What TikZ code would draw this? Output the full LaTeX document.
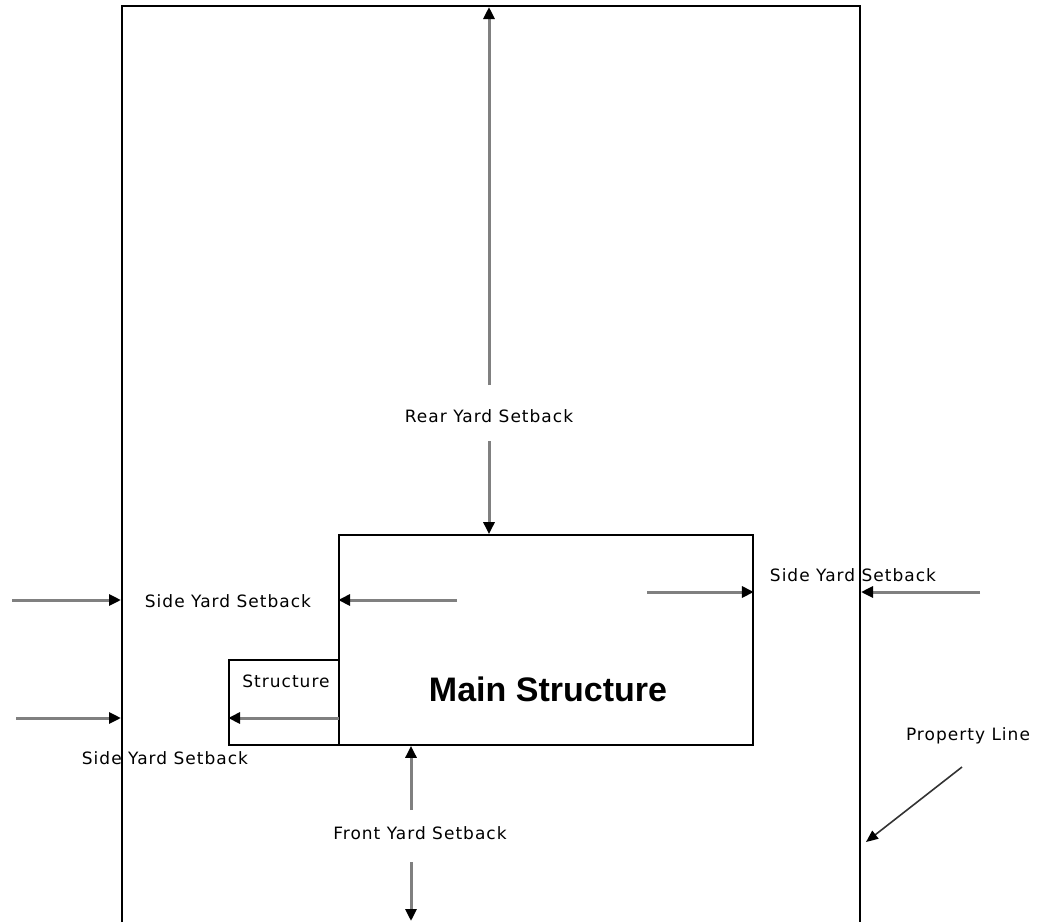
\documentclass[tikz,border=0pt]{standalone}
\usepackage{fontspec}
\setmainfont{DejaVu Sans}
\newfontfamily\tagfont[LetterSpace=6]{DejaVu Sans}
\newfontfamily\headfont{Liberation Sans}
\usetikzlibrary{arrows.meta,positioning}

\begin{document}
\begin{tikzpicture}[x=1pt,y=-1pt,
  setback/.style={draw=gray,line width=3pt,-{Triangle[length=12pt,width=11pt,black]}},
  pointer/.style={draw=black!80,line width=1.6pt,-{Triangle[length=12pt,width=10pt,black]}},
  lot/.style={draw=black,line width=1.8pt},
  tag/.style={font=\tagfont\fontsize{17}{20}\selectfont,inner sep=0pt}]
  \useasboundingbox (0,0) rectangle (1037,922);
  % property line, open at the front
  \draw[lot] (122,922) -- (122,6) -- (860,6) -- (860,922);
  \node[lot,minimum width=414pt,minimum height=210pt,inner sep=0pt] (main) at (546,640) {};
  \node[lot,minimum width=110pt,minimum height=85pt,inner sep=0pt] (shed) at (284,702.5) {};
  \node[font=\headfont\bfseries\fontsize{34}{36}\selectfont,inner sep=0pt] (mainlbl) at (548,689) {Main Structure};
  \node[tag] (shedlbl) at (286,681) {Structure};
  % labels
  \node[tag] (rear) at (489,416) {Rear Yard Setback};
  \node[tag] (sideL) at (228,601) {Side Yard Setback};
  \node[tag] (sideLL) at (165,758) {Side Yard Setback};
  \node[tag] (sideR) at (853,575) {Side Yard Setback};
  \node[tag] (front) at (420,833) {Front Yard Setback};
  \node[tag] (prop) at (968,736) {Property Line};
  % free ends
  \coordinate (rearA) at (489,385);
  \coordinate (rearB) at (489,441);
  \coordinate (plTop) at (489,7);
  \coordinate (lA) at (12,600);
  \coordinate (lB) at (457,600);
  \coordinate (llA) at (16,718);
  \coordinate (sA) at (339,718);
  \coordinate (rA) at (647,592);
  \coordinate (rB) at (980,592);
  \coordinate (frA) at (411,810);
  \coordinate (frB) at (411,862);
  \coordinate (frEnd) at (411,921);
  \coordinate (pA) at (962,767);
  \coordinate (pB) at (866,842);
  % setback arrows
  \draw[setback] (rearA) -- (plTop);
  \draw[setback] (rearB) -- (rearB |- main.north);
  \draw[setback] (lA) -- (121,600);
  \draw[setback] (lB) -- (lB -| main.west);
  \draw[setback] (llA) -- (121,718);
  \draw[setback] (sA) -- (sA -| shed.west);
  \draw[setback] (rA) -- (rA -| main.east);
  \draw[setback] (rB) -- (861,592);
  \draw[setback] (frA) -- (frA |- main.south);
  \draw[setback] (frB) -- (frEnd);
  \draw[pointer] (pA) -- (pB);
\end{tikzpicture}
\end{document}
